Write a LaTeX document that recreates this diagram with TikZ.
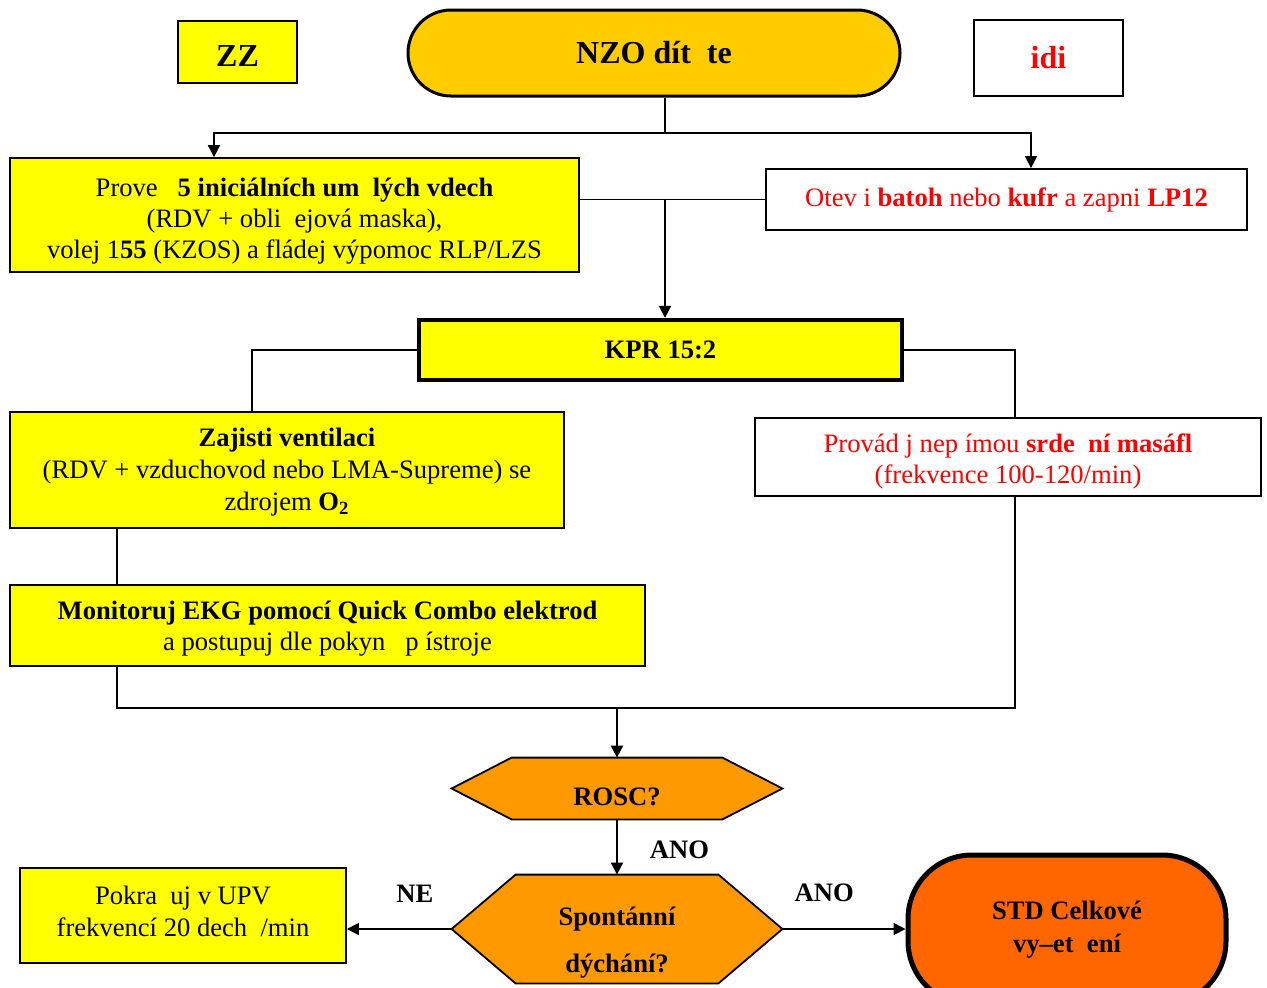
\documentclass[tikz,border=0pt]{standalone}
\usepackage{fontspec}
\setmainfont{Liberation Serif}
\usetikzlibrary{backgrounds, arrows.meta, calc}
\definecolor{boxyellow}{HTML}{FFFF00}
\definecolor{termgold}{HTML}{FFCC00}
\definecolor{hexorange}{HTML}{FF9900}
\definecolor{stdorange}{HTML}{FF6600}
\tikzset{
  zbox/.style = {rectangle, draw=black, fill=boxyellow, line width=0.9pt,
    align=center, inner sep=2pt, font=\fontsize{13.3pt}{15.5pt}\selectfont},
  wbox/.style = {zbox, fill=white, text=red},
  kbox/.style = {zbox, line width=2.2pt, minimum width=241.5pt,
    minimum height=30pt, font=\bfseries\fontsize{13.3pt}{15.5pt}\selectfont},
  term/.style = {rectangle, rounded corners=21.5pt, draw=black, fill=termgold,
    line width=1.5pt, minimum width=246pt, minimum height=43pt,
    font=\bfseries\fontsize{16pt}{18pt}\selectfont},
  std/.style = {rectangle, rounded corners=32pt, draw=black, fill=stdorange,
    line width=2.5pt, minimum width=159pt, minimum height=75pt, align=center,
    font=\bfseries\fontsize{13.3pt}{16.5pt}\selectfont},
  hexa/.style = {rectangle, inner sep=0pt, align=center,
    font=\bfseries\fontsize{13.3pt}{15.5pt}\selectfont},
  hexfill/.style = {draw=black, fill=hexorange, line width=0.9pt},
  lbl/.style = {font=\bfseries\fontsize{13.3pt}{15.5pt}\selectfont, inner sep=0pt},
  lin/.style = {draw=black, line width=0.9pt},
  seta/.style = {lin, -{Triangle[length=6pt, width=6pt]}}
}

\begin{document}
\begin{tikzpicture}[x=0.5pt, y=-0.5pt]
  \clip (0,0) rectangle (1267,987);
  \node [zbox, minimum width=59.5pt, minimum height=31pt, text height=14pt,
    font=\bfseries\fontsize{16pt}{18pt}\selectfont] (zz) at (237.5,52) {ZZ};
  \node [term] (nzo) at (654,53) {NZO dít\ \ te};
  \node [wbox, minimum width=74.5pt, minimum height=38pt,
    font=\bfseries\fontsize{16pt}{18pt}\selectfont] (idi) at (1048.5,58) {idi};

  \node [zbox, minimum width=284.5pt, minimum height=57pt, text height=46pt] (prove) at (294.5,215)
    {Prove\ \ \ \textbf{5 iniciálních um\ \ lých vdech}\\(RDV + obli\ \ ejová maska),\\volej 1\textbf{55} (KZOS) a fládej výpomoc RLP/LZS};
  \node [wbox, minimum width=240.5pt, minimum height=30.5pt] (otev) at (1006.5,199.5)
    {Otev\ i \textbf{batoh} nebo \textbf{kufr} a zapni \textbf{LP12}};
  \node [kbox] (kpr) at (660.5,350) {KPR 15:2};

  \node [zbox, minimum width=277pt, minimum height=58pt, text height=43pt,
    font=\fontsize{13.3pt}{16pt}\selectfont] (zaj) at (287,470)
    {\textbf{Zajisti ventilaci}\\(RDV + vzduchovod nebo LMA-Supreme) se\\zdrojem \textbf{O\textsubscript{2}}};
  \node [wbox, minimum width=253pt, minimum height=39pt, text height=29pt] (prov) at (1008,457)
    {Provád\ j nep\ ímou \textbf{srde\ \ ní masáfl}\\(frekvence 100-120/min)};
  \node [zbox, minimum width=317.5pt, minimum height=40.5pt, text height=28pt] (mon) at (327.5,625.5)
    {\textbf{Monitoruj EKG pomocí Quick Combo elektrod}\\a postupuj dle pokyn\ \ \ p\ ístroje};

  \node [hexa, minimum width=165pt, minimum height=30.5pt, text height=17pt] (rosc) at (617,788.5) {ROSC?};
  \node [hexa, minimum width=165pt, minimum height=54pt, text height=46pt,
    font=\bfseries\fontsize{13.3pt}{23.5pt}\selectfont] (spont) at (617,929) {Spontánní\\dýchání?};
  \node [zbox, minimum width=163pt, minimum height=47.5pt, text height=21pt,
    font=\fontsize{13.3pt}{16pt}\selectfont] (upv) at (183,915.5)
    {Pokra\ \ uj v UPV\\frekvencí 20 dech\ \ /min};
  \node [std] (stdn) at (1067,930) {STD Celkové\\vy–et\ \ ení};

  \begin{scope}[on background layer]
    \draw [hexfill] (rosc.west) -- ([xshift=30pt]rosc.north west) -- ([xshift=-30pt]rosc.north east)
      -- (rosc.east) -- ([xshift=-30pt]rosc.south east) -- ([xshift=30pt]rosc.south west) -- cycle;
    \draw [hexfill] (spont.west) -- ([xshift=32pt]spont.north west) -- ([xshift=-32pt]spont.north east)
      -- (spont.east) -- ([xshift=-32pt]spont.south east) -- ([xshift=32pt]spont.south west) -- cycle;
  \end{scope}

  \coordinate (rozc) at (665,133);
  \draw [lin] (nzo.south -| rozc) -- (rozc);
  \draw [seta] (rozc) -| ([xshift=-40.25pt]prove.north);
  \draw [seta] (rozc) -| ([xshift=12.25pt]otev.north);
  \draw [lin] (prove.east |- otev.west) -- (otev.west);
  \draw [seta] ([xshift=2.25pt]kpr.north |- otev.west) -- ([xshift=2.25pt]kpr.north);
  \draw [lin] (kpr.west) -| ([xshift=-17.5pt]zaj.north);
  \draw [lin] (kpr.east) -| ([xshift=3.5pt]prov.north);
  \draw [lin] ([xshift=-85pt]zaj.south) -- ([xshift=-85pt]zaj.south |- mon.north);
  \coordinate (spoj) at (617,708);
  \draw [lin] ([xshift=-105.25pt]mon.south) |- (spoj) -| ([xshift=3.5pt]prov.south);
  \draw [seta] (spoj) -- (rosc.north);
  \draw [seta] (rosc.south) -- node [lbl, right=16pt, yshift=-1.5pt] {ANO} (spont.north);
  \draw [seta] (spont.west) -- node [lbl, pos=0.35, above=13pt] {NE} (spont.west -| upv.east);
  \draw [seta] (spont.east) -- node [lbl, pos=0.34, above=13pt] {ANO} (spont.east -| stdn.west);
\end{tikzpicture}
\end{document}
